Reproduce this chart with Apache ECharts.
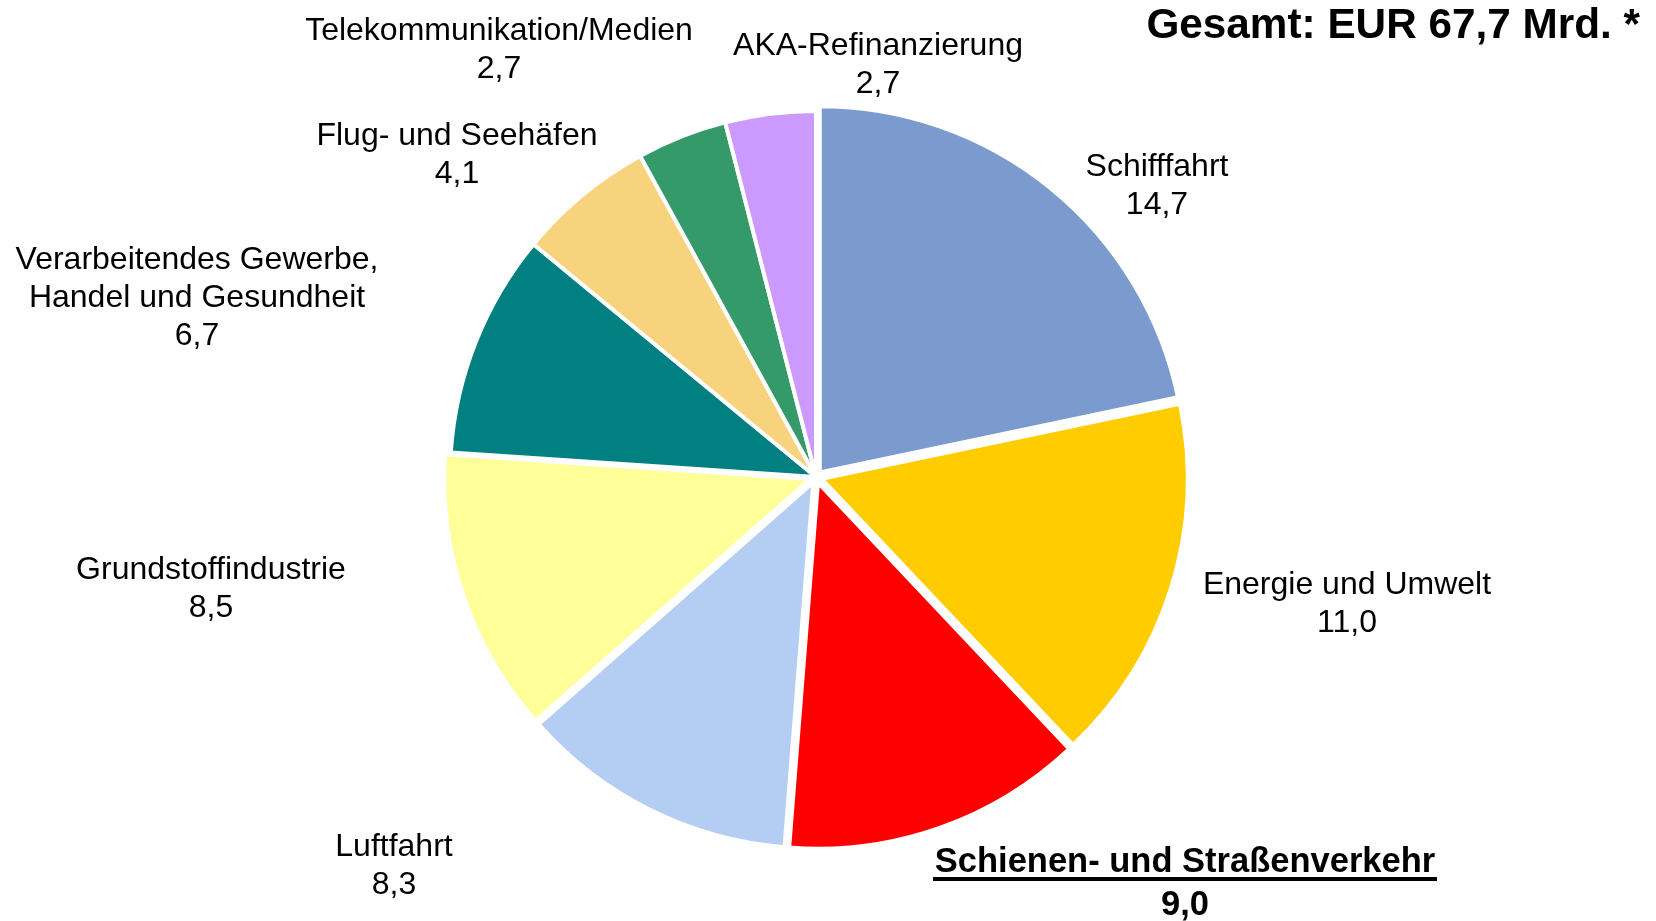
<!DOCTYPE html>
<html>
<head>
<meta charset="utf-8">
<script src="https://cdn.jsdelivr.net/npm/echarts@6/dist/echarts.min.js"></script>
<style>
html,body{margin:0;padding:0;background:#fff;}
#main{width:1656px;height:921px;}
</style>
</head>
<body>
<div id="main"></div>
<script>
const categories = [
  'Schifffahrt',
  'Energie und Umwelt',
  'Schienen- und Straßenverkehr',
  'Luftfahrt',
  'Grundstoffindustrie',
  'Verarbeitendes Gewerbe,\nHandel und Gesundheit',
  'Flug- und Seehäfen',
  'Telekommunikation/Medien',
  'AKA-Refinanzierung'
];
const values = [14.7, 11.0, 9.0, 8.3, 8.5, 6.7, 4.1, 2.7, 2.7];
const colors = ['#7B9BCF', '#FFCC00', '#FF0000', '#B4CDF2', '#FFFF99', '#008080', '#F8D37E', '#359A69', '#CC99FF'];
const exploded = [true, true, true, true, true, false, false, false, false];
const highlighted = 2;
const labelPos = [
  [1157, 186], [1347, 604], [1185, 884], [394, 866], [211, 589],
  [197, 298], [457, 155], [499, 50], [878, 65]
];
const titleText = 'Gesamt: EUR 67,7 Mrd. *';

const fmt = v => v.toFixed(1).replace('.', ',');
const FONT = 'Liberation Sans, Arial, sans-serif';

const chart = echarts.init(document.getElementById('main'), null, {renderer: 'canvas'});

const data = categories.map((c, i) => ({
  name: c,
  value: values[i],
  selected: exploded[i],
  itemStyle: {color: colors[i]}
}));

const labelGraphics = categories.map((c, i) => {
  const bold = i === highlighted;
  return {
    type: 'text',
    x: labelPos[i][0],
    y: labelPos[i][1],
    silent: true,
    style: {
      text: c + '\n' + fmt(values[i]),
      align: 'center',
      verticalAlign: 'middle',
      fontFamily: FONT,
      fontSize: bold ? 34.5 : 32,
      fontWeight: bold ? 'bold' : 'normal',
      lineHeight: bold ? 43 : 38,
      fill: '#000'
    }
  };
});
labelGraphics.push({
  type: 'rect',
  shape: {x: 933, y: 877, width: 504, height: 4},
  style: {fill: '#000'},
  silent: true
});

chart.setOption({
  animation: false,
  backgroundColor: '#fff',
  title: {
    text: titleText,
    right: 16,
    top: 5,
    padding: 0,
    textStyle: {fontFamily: FONT, fontWeight: 'bold', fontSize: 42.3, color: '#000'}
  },
  graphic: labelGraphics,
  series: [{
    type: 'pie',
    center: [816, 477],
    radius: [0, 366],
    startAngle: 90,
    clockwise: true,
    selectedMode: 'multiple',
    selectedOffset: 6,
    emphasis: {disabled: true},
    itemStyle: {borderColor: '#fff', borderWidth: 4},
    label: {show: false},
    labelLine: {show: false},
    data: data
  }]
});
</script>
</body>
</html>
